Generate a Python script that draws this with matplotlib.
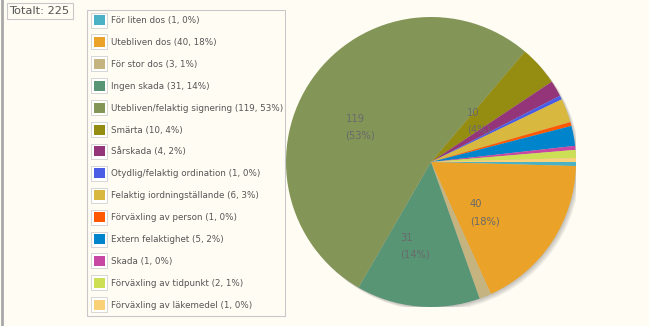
import numpy as np
import matplotlib.pyplot as plt
from matplotlib.patches import Rectangle, Circle
from matplotlib.transforms import offset_copy

# Incident categories and their counts
categories = [
    "För liten dos",
    "Utebliven dos",
    "För stor dos",
    "Ingen skada",
    "Utebliven/felaktig signering",
    "Smärta",
    "Sårskada",
    "Otydlig/felaktig ordination",
    "Felaktig iordningställande",
    "Förväxling av person",
    "Extern felaktighet",
    "Skada",
    "Förväxling av tidpunkt",
    "Förväxling av läkemedel",
]
counts = [1, 40, 3, 31, 119, 10, 4, 1, 6, 1, 5, 1, 2, 1]
colors = [
    "#4bb2c5", "#eaa228", "#c5b47f", "#579575", "#839557", "#958c12",
    "#953579", "#4b5de4", "#d8b83f", "#ff5800", "#0085cc", "#c747a3",
    "#cddf54", "#fbd178",
]

bg = "#fffcf4"
text_col = "#555555"
W, H = 649, 326

fig = plt.figure(figsize=(W / 100, H / 100), dpi=100, facecolor=bg)

# overlay axes in pixel units for the frame, total box and legend
ov = fig.add_axes([0, 0, 1, 1])
ov.set_xlim(0, W)
ov.set_ylim(H, 0)
ov.axis("off")

total = sum(counts)
ov.plot([2, 2], [0, H], color="#a8a8a8", lw=2)
ov.add_patch(Rectangle((7, 3), 66, 16, fill=False, ec="#c8c8c8", lw=0.8))
ov.text(9, 11.5, f"Totalt: {total}", fontsize=8.2, color=text_col,
        va="center", ha="left")

# legend box
ov.add_patch(Rectangle((87, 10), 198, 306, facecolor=bg, ec="#c8c8c8", lw=0.8))
row0, row_step = 20.5, 21.9
for i, (name, n, c) in enumerate(zip(categories, counts, colors)):
    y = row0 + i * row_step
    ov.add_patch(Rectangle((91, y - 8), 16, 15, facecolor="white",
                           ec="#d0d0d0", lw=0.6))
    ov.add_patch(Rectangle((93.5, y - 5.5), 11, 10, facecolor=c, ec="none"))
    pct = round(100 * n / total)
    ov.text(111, y, f"{name} ({n}, {pct}%)", fontsize=6.35, color=text_col,
            va="center", ha="left")

# pie
cx, cy, r = 431, 162, 145
ax = fig.add_axes([(cx - r) / W, (H - cy - r) / H, 2 * r / W, 2 * r / H])
ax.axis("off")

# soft drop shadow below-right of the pie
for k in range(1, 5):
    off = 0.007 * k
    ax.add_patch(Circle((off, -off), 1.0, facecolor="#000000", alpha=0.06,
                        ec="none", zorder=0))

wedges, _ = ax.pie(counts, colors=colors, startangle=0, counterclock=False,
                   radius=1.0, wedgeprops=dict(linewidth=0))
ax.set_xlim(-1, 1)
ax.set_ylim(-1, 1)
ax.set_aspect("equal")

# value labels for the larger slices, nudged left/down in pixels
label_tr = offset_copy(ax.transData, fig=fig, x=-9, y=-9, units="dots")
for w, n in zip(wedges, counts):
    if n / total < 0.04:
        continue
    mid = np.deg2rad((w.theta1 + w.theta2) / 2)
    d = 0.52
    x, y = d * np.cos(mid), d * np.sin(mid)
    ax.text(x, y, f"{n}\n({round(100 * n / total)}%)", fontsize=7.2,
            color="#6a6a6a", ha="center", va="center", multialignment="left",
            linespacing=1.85, transform=label_tr)

fig.savefig("out.png", dpi=100, facecolor=bg)
